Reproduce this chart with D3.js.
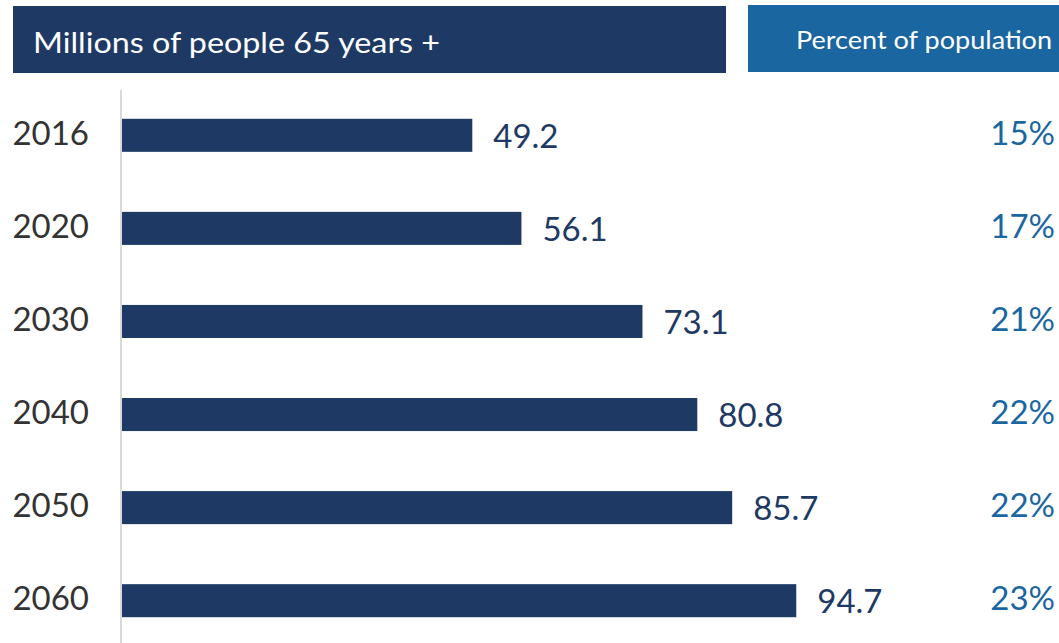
<!DOCTYPE html>
<html>
<head>
<meta charset="utf-8">
<script src="https://cdn.jsdelivr.net/npm/d3@7"></script>
<style>
  html, body { margin: 0; padding: 0; background: #fff; }
  svg { display: block; font-family: Lato, "Open Sans", sans-serif; }
</style>
</head>
<body>
<svg id="chart" width="1059" height="643"></svg>
<script>
// Population aged 65 and over, by year
const years = ["2016", "2020", "2030", "2040", "2050", "2060"];
const millions = [49.2, 56.1, 73.1, 80.8, 85.7, 94.7];
const percentLabels = ["15%", "17%", "21%", "22%", "22%", "23%"];
const headerLeft = "Millions of people 65 years +";
const headerRight = "Percent of population";

const navy = "#1e3a64";
const blue = "#1a66a0";

const svg = d3.select("#chart");

// Header boxes
svg.append("rect").attr("x", 13).attr("y", 6).attr("width", 713).attr("height", 67).attr("fill", navy);
svg.append("rect").attr("x", 748).attr("y", 5).attr("width", 311).attr("height", 67).attr("fill", blue);
svg.append("text").attr("x", 33).attr("y", 53).attr("fill", "#fff")
  .attr("font-size", 29).attr("textLength", 407).attr("lengthAdjust", "spacingAndGlyphs")
  .text(headerLeft);
svg.append("text").attr("x", 796).attr("y", 49).attr("fill", "#fff")
  .attr("font-size", 25).attr("textLength", 256).attr("lengthAdjust", "spacingAndGlyphs")
  .text(headerRight);

// Scales
const x = d3.scaleLinear().domain([0, 100]).range([122, 122 + 712]);
const y = d3.scaleBand().domain(years).range([89, 647]).paddingInner(0.645).paddingOuter(0.32);

// Baseline axis
svg.append("line").attr("x1", 121).attr("x2", 121).attr("y1", 90).attr("y2", 643)
  .attr("stroke", "#d9d9d9").attr("stroke-width", 2);

const rows = svg.append("g").selectAll("g").data(years).join("g");

rows.append("rect")
  .attr("x", x(0))
  .attr("y", d => y(d))
  .attr("width", (d, i) => x(millions[i]) - x(0))
  .attr("height", y.bandwidth())
  .attr("fill", navy);

rows.append("text")
  .attr("x", 89)
  .attr("y", d => y(d) + y.bandwidth() / 2 - 2)
  .attr("dy", "0.35em")
  .attr("text-anchor", "end")
  .attr("fill", "#333")
  .attr("font-size", 33)
  .text(d => d);

rows.append("text")
  .attr("x", (d, i) => x(millions[i]) + 21)
  .attr("y", d => y(d) + y.bandwidth() / 2 + 1)
  .attr("dy", "0.35em")
  .attr("fill", navy)
  .attr("font-size", 33)
  .text((d, i) => millions[i].toFixed(1));

rows.append("text")
  .attr("x", 1055)
  .attr("y", d => y(d) + y.bandwidth() / 2 - 2)
  .attr("dy", "0.35em")
  .attr("text-anchor", "end")
  .attr("fill", blue)
  .attr("font-size", 33)
  .text((d, i) => percentLabels[i]);
</script>
</body>
</html>
